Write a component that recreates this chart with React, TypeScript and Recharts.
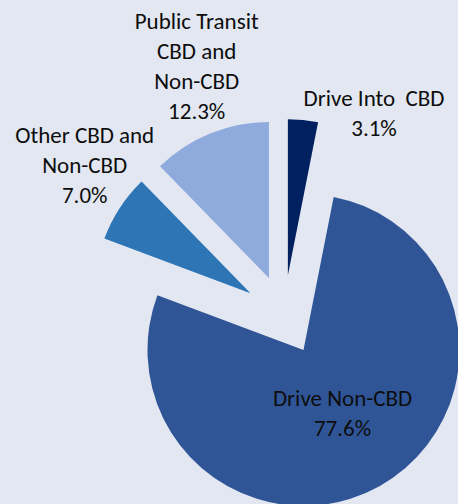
import { PieChart, Pie, Cell, Sector } from "recharts";

// commute mode shares (%), clockwise from 12 o'clock
const categories = [
  "Drive Into  CBD",
  "Drive Non-CBD",
  "Other CBD and\nNon-CBD",
  "Public Transit\nCBD and\nNon-CBD",
];
const shares = [3.1, 77.6, 7.0, 12.3];

const COLORS = ["#002060", "#2F5597", "#2E75B6", "#8FAADC"];
const BG = "#E2E7F1";
const EXPLODE = 40;
const LINE = 30;
const RAD = Math.PI / 180;

// label placement relative to each slice: radius as a multiple of the
// pie radius, turn = degrees clockwise from the slice's mid angle
const LABEL_LAYOUT = [
  { radius: 1.42, turn: 18.4 },
  { radius: 0.73, turn: -1.8 },
  { radius: 1.6, turn: 3.9 },
  { radius: 1.69, turn: 2.8 },
];

const data = categories.map((name, i) => ({ name, value: shares[i] }));

function ExplodedSector(props: any) {
  const { cx, cy, midAngle } = props;
  const dx = EXPLODE * Math.cos(-midAngle * RAD);
  const dy = EXPLODE * Math.sin(-midAngle * RAD);
  return <Sector {...props} cx={cx + dx} cy={cy + dy} stroke="none" />;
}

function renderLabel(props: any) {
  const { cx, cy, midAngle, outerRadius, index, value } = props;
  const lay = LABEL_LAYOUT[index];
  const ang = (midAngle - lay.turn) * RAD;
  const dist = outerRadius * lay.radius;
  const x = cx + dist * Math.cos(-ang);
  const y = cy + dist * Math.sin(-ang);
  const lines = [...categories[index].split("\n"), `${value.toFixed(1)}%`];
  const top = y - ((lines.length - 1) * LINE) / 2;
  return (
    <text
      x={x}
      y={top}
      textAnchor="middle"
      dominantBaseline="central"
      fill="#0d0d0d"
      fontSize={23}
      fontFamily="Calibri, Carlito, Lato, sans-serif"
    >
      {lines.map((l, i) => (
        <tspan key={i} x={x} y={top + i * LINE} style={{ whiteSpace: "pre" }}>
          {l}
        </tspan>
      ))}
    </text>
  );
}

export default function App() {
  return (
    <div
      style={{
        position: "absolute",
        left: 0,
        top: 0,
        width: 458,
        height: 504,
        background: BG,
        overflow: "hidden",
      }}
    >
      <PieChart width={458} height={504} margin={{ top: 0, right: 0, bottom: 0, left: 0 }}>
        <Pie
          data={data}
          dataKey="value"
          nameKey="name"
          cx={284}
          cy={315}
          outerRadius={156}
          startAngle={90}
          endAngle={-270}
          stroke="none"
          shape={ExplodedSector}
          label={renderLabel}
          labelLine={false}
          isAnimationActive={false}
        >
          {data.map((d, i) => (
            <Cell key={d.name} fill={COLORS[i]} />
          ))}
        </Pie>
      </PieChart>
    </div>
  );
}
